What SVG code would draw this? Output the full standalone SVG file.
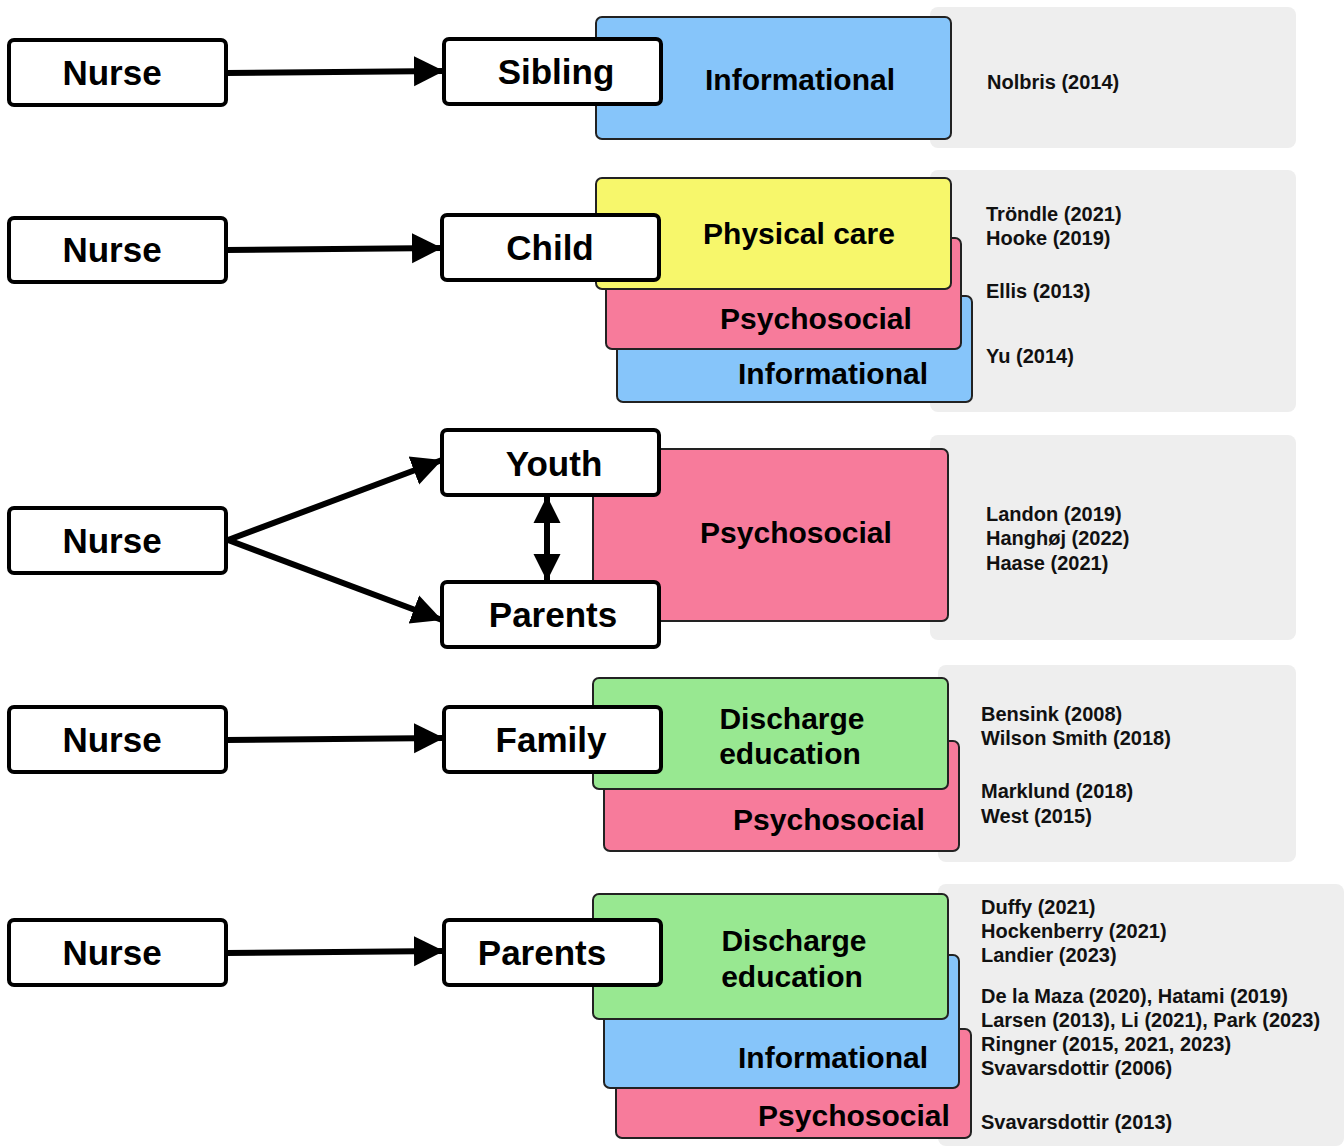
<svg xmlns="http://www.w3.org/2000/svg" width="1344" height="1146" viewBox="0 0 1344 1146">
<defs>
<style>
.bg{fill:#ffffff}
.gray{fill:#eeeeee}
.node{fill:#ffffff;stroke:#000;stroke-width:4}
.cat{stroke:#222;stroke-width:2}
.blue{fill:#86c5fa}
.yellow{fill:#f7f76b}
.pink{fill:#f77b9b}
.green{fill:#98e891}
.nt{font-family:"Liberation Sans",Arial,sans-serif;font-weight:bold;font-size:35px;fill:#000;text-anchor:middle}
.ct{font-family:"Liberation Sans",Arial,sans-serif;font-weight:bold;font-size:30px;fill:#000;text-anchor:middle}
.rt{font-family:"Liberation Sans",Arial,sans-serif;font-weight:bold;font-size:20px;fill:#111}
.conn{stroke:#000;stroke-width:6;fill:none}
</style>
<marker id="ah" viewBox="0 0 10 10" refX="10" refY="5" markerWidth="5" markerHeight="6" markerUnits="strokeWidth" orient="auto">
<path d="M0,0 L10,5 L0,10 Z" fill="#000"/>
</marker>
<marker id="ahs" viewBox="0 0 10 10" refX="10" refY="5" markerWidth="4.5" markerHeight="5.5" markerUnits="strokeWidth" orient="auto-start-reverse">
<path d="M0,0 L10,5 L0,10 Z" fill="#000"/>
</marker>
</defs>
<rect class="bg" x="0" y="0" width="1344" height="1146"/>

<!-- Row 1 -->
<g id="refs1">
<rect class="gray" x="930" y="7" width="366" height="141" rx="8"/>
<text class="rt" x="987" y="89">Nolbris (2014)</text>
</g>
<g id="cat1-informational">
<rect class="cat blue" x="596" y="17" width="355" height="122" rx="6"/>
<text class="ct" x="800" y="90">Informational</text>
</g>

<!-- Row 2 -->
<g id="refs2">
<rect class="gray" x="930" y="170" width="366" height="242" rx="8"/>
<text class="rt" x="986" y="221">Tröndle (2021)</text>
<text class="rt" x="986" y="245">Hooke (2019)</text>
<text class="rt" x="986" y="298">Ellis (2013)</text>
<text class="rt" x="986" y="363">Yu (2014)</text>
</g>
<g id="cat2-informational">
<rect class="cat blue" x="617" y="296" width="355" height="106" rx="6"/>
<text class="ct" x="833" y="384">Informational</text>
</g>
<g id="cat2-psychosocial">
<rect class="cat pink" x="606" y="238" width="355" height="111" rx="6"/>
<text class="ct" x="816" y="329">Psychosocial</text>
</g>
<g id="cat2-physical">
<rect class="cat yellow" x="596" y="178" width="355" height="111" rx="6"/>
<text class="ct" x="799" y="244">Physical care</text>
</g>

<!-- Row 3 -->
<g id="refs3">
<rect class="gray" x="930" y="435" width="366" height="205" rx="8"/>
<text class="rt" x="986" y="521">Landon (2019)</text>
<text class="rt" x="986" y="545">Hanghøj (2022)</text>
<text class="rt" x="986" y="570">Haase (2021)</text>
</g>
<g id="cat3-psychosocial">
<rect class="cat pink" x="593" y="449" width="355" height="172" rx="6"/>
<text class="ct" x="796" y="543">Psychosocial</text>
</g>

<!-- Row 4 -->
<g id="refs4">
<rect class="gray" x="938" y="665" width="358" height="197" rx="8"/>
<text class="rt" x="981" y="721">Bensink (2008)</text>
<text class="rt" x="981" y="745">Wilson Smith (2018)</text>
<text class="rt" x="981" y="798">Marklund (2018)</text>
<text class="rt" x="981" y="823">West (2015)</text>
</g>
<g id="cat4-psychosocial">
<rect class="cat pink" x="604" y="741" width="355" height="110" rx="6"/>
<text class="ct" x="829" y="830">Psychosocial</text>
</g>
<g id="cat4-discharge">
<rect class="cat green" x="593" y="678" width="355" height="111" rx="6"/>
<text class="ct" x="792" y="729">Discharge</text>
<text class="ct" x="790" y="764">education</text>
</g>

<!-- Row 5 -->
<g id="refs5">
<rect class="gray" x="938" y="884" width="406" height="262" rx="8"/>
<text class="rt" x="981" y="914">Duffy (2021)</text>
<text class="rt" x="981" y="938">Hockenberry (2021)</text>
<text class="rt" x="981" y="962">Landier (2023)</text>
<text class="rt" x="981" y="1003">De la Maza (2020), Hatami (2019)</text>
<text class="rt" x="981" y="1027">Larsen (2013), Li (2021), Park (2023)</text>
<text class="rt" x="981" y="1051">Ringner (2015, 2021, 2023)</text>
<text class="rt" x="981" y="1075">Svavarsdottir (2006)</text>
<text class="rt" x="981" y="1129">Svavarsdottir (2013)</text>
</g>
<g id="cat5-psychosocial">
<rect class="cat pink" x="616" y="1029" width="355" height="109" rx="6"/>
<text class="ct" x="854" y="1126">Psychosocial</text>
</g>
<g id="cat5-informational">
<rect class="cat blue" x="604" y="955" width="355" height="133" rx="6"/>
<text class="ct" x="833" y="1068">Informational</text>
</g>
<g id="cat5-discharge">
<rect class="cat green" x="593" y="894" width="355" height="125" rx="6"/>
<text class="ct" x="794" y="951">Discharge</text>
<text class="ct" x="792" y="987">education</text>
</g>

<!-- Connectors -->
<g id="connectors">
<line class="conn" x1="226" y1="73" x2="444" y2="71" marker-end="url(#ah)"/>
<line class="conn" x1="226" y1="250" x2="442" y2="248" marker-end="url(#ah)"/>
<line class="conn" x1="228" y1="540" x2="442" y2="460" marker-end="url(#ah)"/>
<line class="conn" x1="228" y1="540" x2="442" y2="620" marker-end="url(#ah)"/>
<line class="conn" x1="547" y1="496" x2="547" y2="581" marker-start="url(#ahs)" marker-end="url(#ahs)"/>
<line class="conn" x1="226" y1="740" x2="444" y2="738" marker-end="url(#ah)"/>
<line class="conn" x1="226" y1="953" x2="444" y2="951" marker-end="url(#ah)"/>
</g>

<!-- Nodes -->
<g id="nurse1"><rect class="node" x="9" y="40" width="217" height="65" rx="5"/><text class="nt" x="112" y="85">Nurse</text></g>
<g id="sibling"><rect class="node" x="444" y="39" width="217" height="65" rx="5"/><text class="nt" x="556" y="84">Sibling</text></g>
<g id="nurse2"><rect class="node" x="9" y="218" width="217" height="64" rx="5"/><text class="nt" x="112" y="262">Nurse</text></g>
<g id="child"><rect class="node" x="442" y="215" width="217" height="65" rx="5"/><text class="nt" x="550" y="260">Child</text></g>
<g id="nurse3"><rect class="node" x="9" y="508" width="217" height="65" rx="5"/><text class="nt" x="112" y="553">Nurse</text></g>
<g id="youth"><rect class="node" x="442" y="430" width="217" height="65" rx="5"/><text class="nt" x="554" y="476">Youth</text></g>
<g id="parents3"><rect class="node" x="442" y="582" width="217" height="65" rx="5"/><text class="nt" x="553" y="627">Parents</text></g>
<g id="nurse4"><rect class="node" x="9" y="707" width="217" height="65" rx="5"/><text class="nt" x="112" y="752">Nurse</text></g>
<g id="family"><rect class="node" x="444" y="707" width="217" height="65" rx="5"/><text class="nt" x="551" y="752">Family</text></g>
<g id="nurse5"><rect class="node" x="9" y="920" width="217" height="65" rx="5"/><text class="nt" x="112" y="965">Nurse</text></g>
<g id="parents5"><rect class="node" x="444" y="920" width="217" height="65" rx="5"/><text class="nt" x="542" y="965">Parents</text></g>
</svg>
